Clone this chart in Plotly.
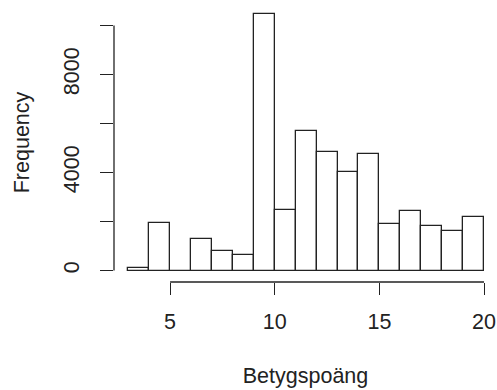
import plotly.graph_objects as go

bin_edges = list(range(3, 21))
counts = [120, 1950, 0, 1270, 810, 620, 10480, 2470, 5690, 4840, 4030, 4770, 1900, 2430, 1830, 1610, 2180]
x_ticks = [5, 10, 15, 20]
y_ticks = [0, 2000, 4000, 6000, 8000, 10000]
y_tick_text = ["0", "", "4000", "", "8000", ""]

centers = [(a + b) / 2 for a, b in zip(bin_edges[:-1], bin_edges[1:])]
widths = [b - a for a, b in zip(bin_edges[:-1], bin_edges[1:])]

ink = "#222222"
font = dict(family="Liberation Sans, Arial, sans-serif", size=21.5, color=ink)
title_font = dict(family="Liberation Sans, Arial, sans-serif", size=21.5, color=ink)

fig = go.Figure(go.Bar(
    x=centers, y=counts, width=widths,
    marker=dict(color="white", line=dict(color=ink, width=1.3)),
))

fig.update_layout(
    width=497, height=390,
    margin=dict(l=114, r=0, t=3, b=108),
    plot_bgcolor="white", paper_bgcolor="white",
    font=font, showlegend=False, bargap=0,
    xaxis=dict(range=[2.32, 20.62], tickvals=x_ticks, ticks="outside", ticklen=12,
               tickwidth=1.3, tickcolor=ink, showgrid=False, zeroline=False, showline=False,
               ticklabelstandoff=8,
               title=dict(text="Betygspoäng", standoff=35, font=title_font)),
    yaxis=dict(range=[-469, 10918], tickvals=y_ticks, ticktext=y_tick_text, ticks="outside",
               ticklen=13, tickwidth=1.3, tickcolor=ink, showgrid=False, zeroline=False,
               showline=False, tickangle=-90, ticklabelstandoff=12,
               title=dict(text="Frequency", standoff=24, font=title_font)),
)

fig.add_shape(type="line", xref="x", yref="paper", x0=min(x_ticks), x1=max(x_ticks), y0=0, y1=0,
              line=dict(color=ink, width=1.3))
fig.add_shape(type="line", xref="paper", yref="y", x0=0, x1=0, y0=min(y_ticks), y1=max(y_ticks),
              line=dict(color=ink, width=1.3))

fig.write_html("out.html")
